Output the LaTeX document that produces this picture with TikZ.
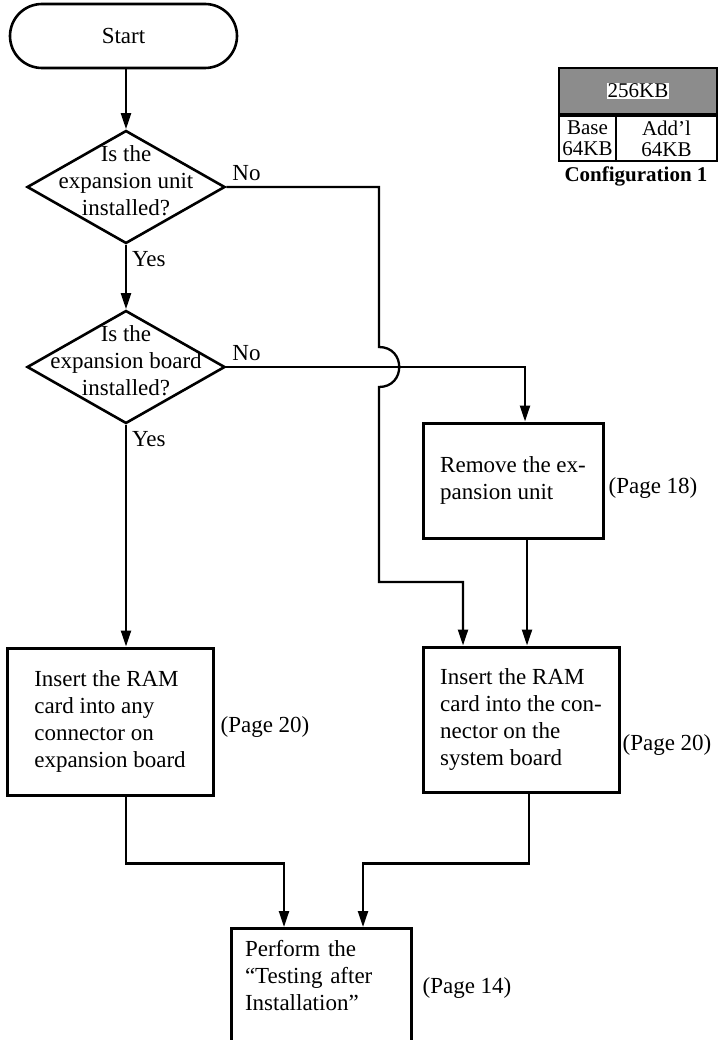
\documentclass[tikz,border=0pt]{standalone}
\usepackage{fontspec}
\setmainfont{Liberation Serif}
\usetikzlibrary{arrows.meta,shapes.geometric}

\begin{document}
\begin{tikzpicture}[x=1pt,y=-1pt,>={Triangle[length=16pt,width=10pt]},
 font={\fontsize{23}{27}\selectfont},
 line/.style={line width=2.3pt},
 arr/.style={line,->},
 term/.style={draw,line width=2.6pt,rounded corners=32pt,minimum width=227pt,minimum height=64pt},
 decision/.style={draw,diamond,line width=2.6pt,inner sep=-40pt,align=center,text depth=12pt,
  minimum width=198pt,minimum height=113pt},
 proc/.style={draw,line width=3pt,align=left},
 page/.style={inner sep=0pt},
 cell/.style={draw,line width=2.2pt,inner sep=0pt,align=center,font={\fontsize{21}{21}\selectfont}}]
\useasboundingbox (0,0) rectangle (722,1040);

% main flow
\node[term] (start) at (123.5,36) {Start};
\node[decision] (q1) at (126,187) {Is the\\expansion unit\\installed?};
\node[decision] (q2) at (126,367) {Is the\\expansion board\\installed?};
\node[proc,minimum width=206pt,minimum height=147pt] (ramL) at (110,721.5)
 {Insert the RAM\\card into any\\connector on\\expansion board};
\node[proc,minimum width=180pt,minimum height=115pt] (rem) at (513,480.5)
 {Remove the ex-\\pansion unit};
\node[proc,minimum width=196pt,minimum height=145pt] (ramR) at (521,719.5)
 {Insert the RAM\\card into the con-\\nector on the\\system board};
\node[proc,anchor=north,text width=152pt,inner xsep=14pt,inner ysep=12pt,text depth=110pt]
 (test) at (321,927) {Perform the\\“Testing after\\Installation”};

% page references
\node[page] (pL) at (265,727) {(Page 20)};
\node[page] (pRem) at (653,488) {(Page 18)};
\node[page] (pR) at (667,745) {(Page 20)};
\node[page] (pT) at (467,988) {(Page 14)};

% configuration sketch
\node[draw,line width=2.2pt,fill=black!45,minimum width=158pt,minimum height=46pt,inner sep=0pt,
 font={\fontsize{21}{21}\selectfont}] (cfg) at (638,91) {\fboxsep=1pt\colorbox{white}{256KB}};
\node[cell,minimum width=57pt,minimum height=45pt,anchor=north west] (base) at (cfg.south west) {Base\\64KB};
\node[cell,minimum width=101pt,minimum height=45pt,anchor=north east] (addl) at (cfg.south east) {Add’l\\64KB};
\node[font={\bfseries\fontsize{21}{21}\selectfont}] (cfgname) at (636,176) {Configuration 1};

% connectors
\coordinate (jtop) at (379,347);
\coordinate (jbot) at (379,387);
\coordinate (turnR) at (379,582);
\draw[arr] (start.south -| q1.north) -- (q1.north);
\draw[arr] (q1.south) node[below right,inner sep=5pt] {Yes} -- (q2.north);
\draw[arr] (q2.south) node[below right,inner sep=5pt] {Yes} -- (q2.south |- ramL.north);
\draw[arr] (q1.east) node[above right,inner sep=5pt] {No} -| (jtop)
 .. controls ([xshift=27pt]jtop) and ([xshift=27pt]jbot) .. (jbot)
 -- (turnR) -| ([xshift=-58pt]ramR.north);
\draw[arr] (q2.east) node[above right,inner sep=5pt] {No} -| ([xshift=12pt]rem.north);
\draw[arr] ([xshift=14pt]rem.south) -- ([xshift=14pt]rem.south |- ramR.north);
\draw[arr] (q2.south |- ramL.south) -- ++(0,67) -| ([xshift=-37pt]test.north);
\draw[arr] ([xshift=8pt]ramR.south) -- ++(0,70) -| ([xshift=42pt]test.north);
\end{tikzpicture}
\end{document}
